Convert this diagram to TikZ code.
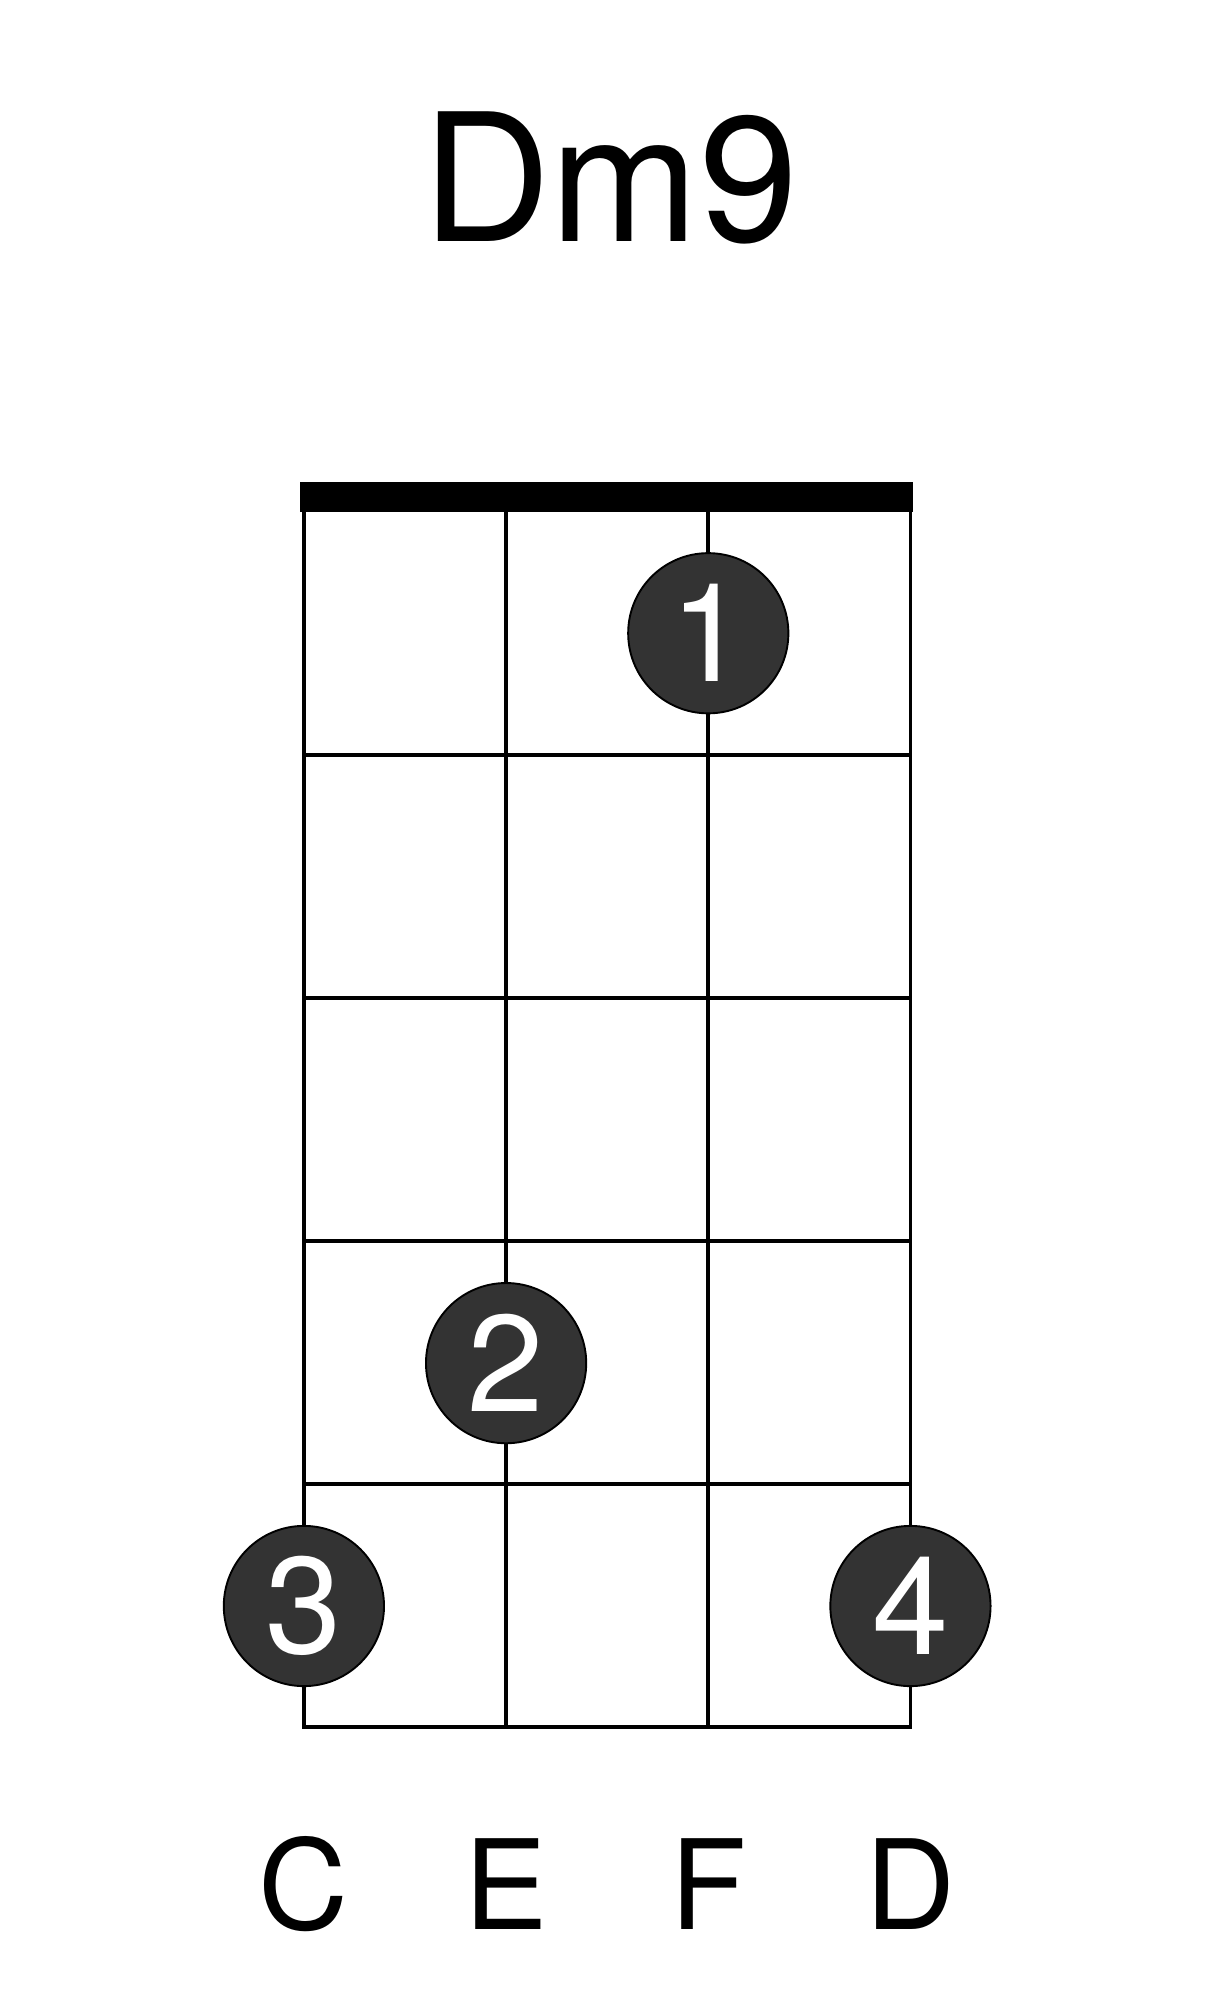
\documentclass[tikz,border=0pt]{standalone}
\usepackage{fontspec}
\setmainfont{TeX Gyre Heros}
\definecolor{dot}{HTML}{333333}
\begin{document}
\begin{tikzpicture}[x=1pt,y=-1pt,
  grid/.style={line width=3pt,black},
  fing/.style={circle,fill=dot,draw=black,line width=1.5pt,minimum size=126pt,inner sep=0pt,text=white,font=\fontsize{108}{108}\selectfont},
  lab/.style={font=\fontsize{98}{98}\selectfont}]
\useasboundingbox (0,0) rectangle (960,1576);
\node[font=\fontsize{140}{140}\selectfont] (title) at (480,140) {Dm9};
\fill (236,379) rectangle (718,403);
\foreach \x/\n in {239/a,398/b,557/c,716/d} \draw[grid] (\x,402) coordinate (t\n) -- (\x,1358) coordinate (b\n);
\foreach \y in {594,785,976,1167,1358} \draw[grid] (237.5,\y) -- (717.5,\y);
\node[fing] (f1) at (557,498) {1};
\node[fing] (f2) at (398,1072) {2};
\node[fing] (f3) at (239,1263) {3};
\node[fing] (f4) at (716,1263) {4};
\node[lab] (lc) at (239,1482) {C};
\node[lab] (le) at (398,1482) {E};
\node[lab] (lf) at (557,1482) {F};
\node[lab] (ld) at (716,1482) {D};
\end{tikzpicture}
\end{document}
